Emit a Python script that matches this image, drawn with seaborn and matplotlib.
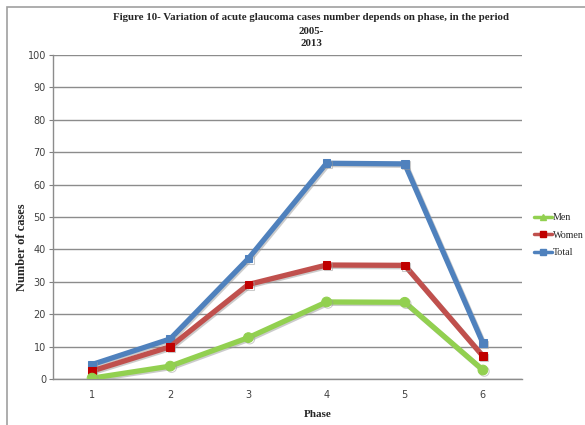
import matplotlib
matplotlib.use("Agg")
import matplotlib.pyplot as plt
import matplotlib.patheffects as pe
from matplotlib.patches import Rectangle
from matplotlib.lines import Line2D
import seaborn as sns
import pandas as pd

phases = [1, 2, 3, 4, 5, 6]
men = [0.3, 4.0, 12.8, 23.8, 23.7, 2.8]
women = [2.5, 10.0, 29.2, 35.2, 35.1, 7.1]
total = [4.5, 12.4, 37.2, 66.6, 66.4, 11.1]
series_names = ["Men", "Women", "Total"]
colors = {"Men": "#92D050", "Women": "#C0504D", "Total": "#4F81BD"}
marker_colors = {"Men": "#92D050", "Women": "#C00000", "Total": "#4F81BD"}
markers = {"Men": "o", "Women": "s", "Total": "s"}

df = pd.DataFrame({
    "Phase": phases * 3,
    "Cases": men + women + total,
    "Series": ["Men"] * 6 + ["Women"] * 6 + ["Total"] * 6,
})

sns.set_style("white")
fig = plt.figure(figsize=(5.85, 4.25), dpi=100)
ax = fig.add_axes([0.0906, 0.108, 0.8017, 0.7626])

shadow = [pe.SimpleLineShadow(offset=(1.0, -1.0), shadow_color="#999999", alpha=0.5), pe.Normal()]
for name in ["Total", "Women", "Men"]:
    sub = df[df["Series"] == name]
    sns.lineplot(data=sub, x="Phase", y="Cases", ax=ax, color=colors[name],
                 linewidth=3.8, marker=markers[name],
                 markersize=7 if name == "Men" else 5.5,
                 markerfacecolor=marker_colors[name], markeredgecolor=marker_colors[name],
                 legend=False, path_effects=shadow, zorder=3)

ax.set_xlim(0.5, 6.5)
ax.set_ylim(0, 100)
ax.set_yticks(range(0, 101, 10))
ax.set_xticks(phases)
ax.set_xticks([p + 0.5 for p in [0] + phases], minor=True)
ax.tick_params(axis="x", which="major", length=0, labelsize=7, labelcolor="#404040", pad=8)
ax.tick_params(axis="x", which="minor", length=3, color="#808080", direction="out")
ax.tick_params(axis="y", length=3, color="#808080", direction="out", labelsize=7,
               labelcolor="#404040", pad=2, left=True)
for lbl in ax.get_xticklabels() + ax.get_yticklabels():
    lbl.set_family("DejaVu Sans")
ax.grid(axis="y", color="#8c8c8c", linewidth=1.0)
ax.grid(axis="x", visible=False)
ax.set_axisbelow(True)
for s in ["top", "right"]:
    ax.spines[s].set_visible(False)
for s in ["left", "bottom"]:
    ax.spines[s].set_color("#8c8c8c")
    ax.spines[s].set_linewidth(1.0)

ax.set_xlabel("Phase", family="Liberation Serif", fontweight="bold", fontsize=8)
ax.set_ylabel("Number of cases", family="Liberation Serif", fontweight="bold", fontsize=9)
ax.xaxis.set_label_coords(0.565, -0.096)
ax.yaxis.set_label_coords(-0.053, 0.407)

title_kw = dict(ha="center", va="center", family="Liberation Serif", fontweight="bold", fontsize=7.8)
fig.text(0.532, 1 - 18 / 425, "Figure 10- Variation of acute glaucoma cases number depends on phase, in the period", **title_kw)
fig.text(0.532, 1 - 31 / 425, "2005-", **title_kw)
fig.text(0.532, 1 - 44 / 425, "2013", **title_kw)

handles = [Line2D([], [], color=colors[n], linewidth=2.5, marker=markers[n] if n != "Men" else "^",
                  markersize=4, markerfacecolor=marker_colors[n], markeredgecolor=marker_colors[n])
           for n in series_names]
fig.legend(handles, series_names, loc="center left", bbox_to_anchor=(0.912, 0.447),
           frameon=False, prop={"family": "Liberation Serif", "size": 7.2},
           handlelength=1.8, handletextpad=0.1, labelspacing=0.85, borderaxespad=0, borderpad=0)

fig.patches.append(Rectangle((7 / 585, -0.01), 1.0, 1 - 7 / 425 + 0.01, transform=fig.transFigure,
                             fill=False, edgecolor="#a0a0a0", linewidth=1.2))

fig.savefig("out.png", dpi=100)
